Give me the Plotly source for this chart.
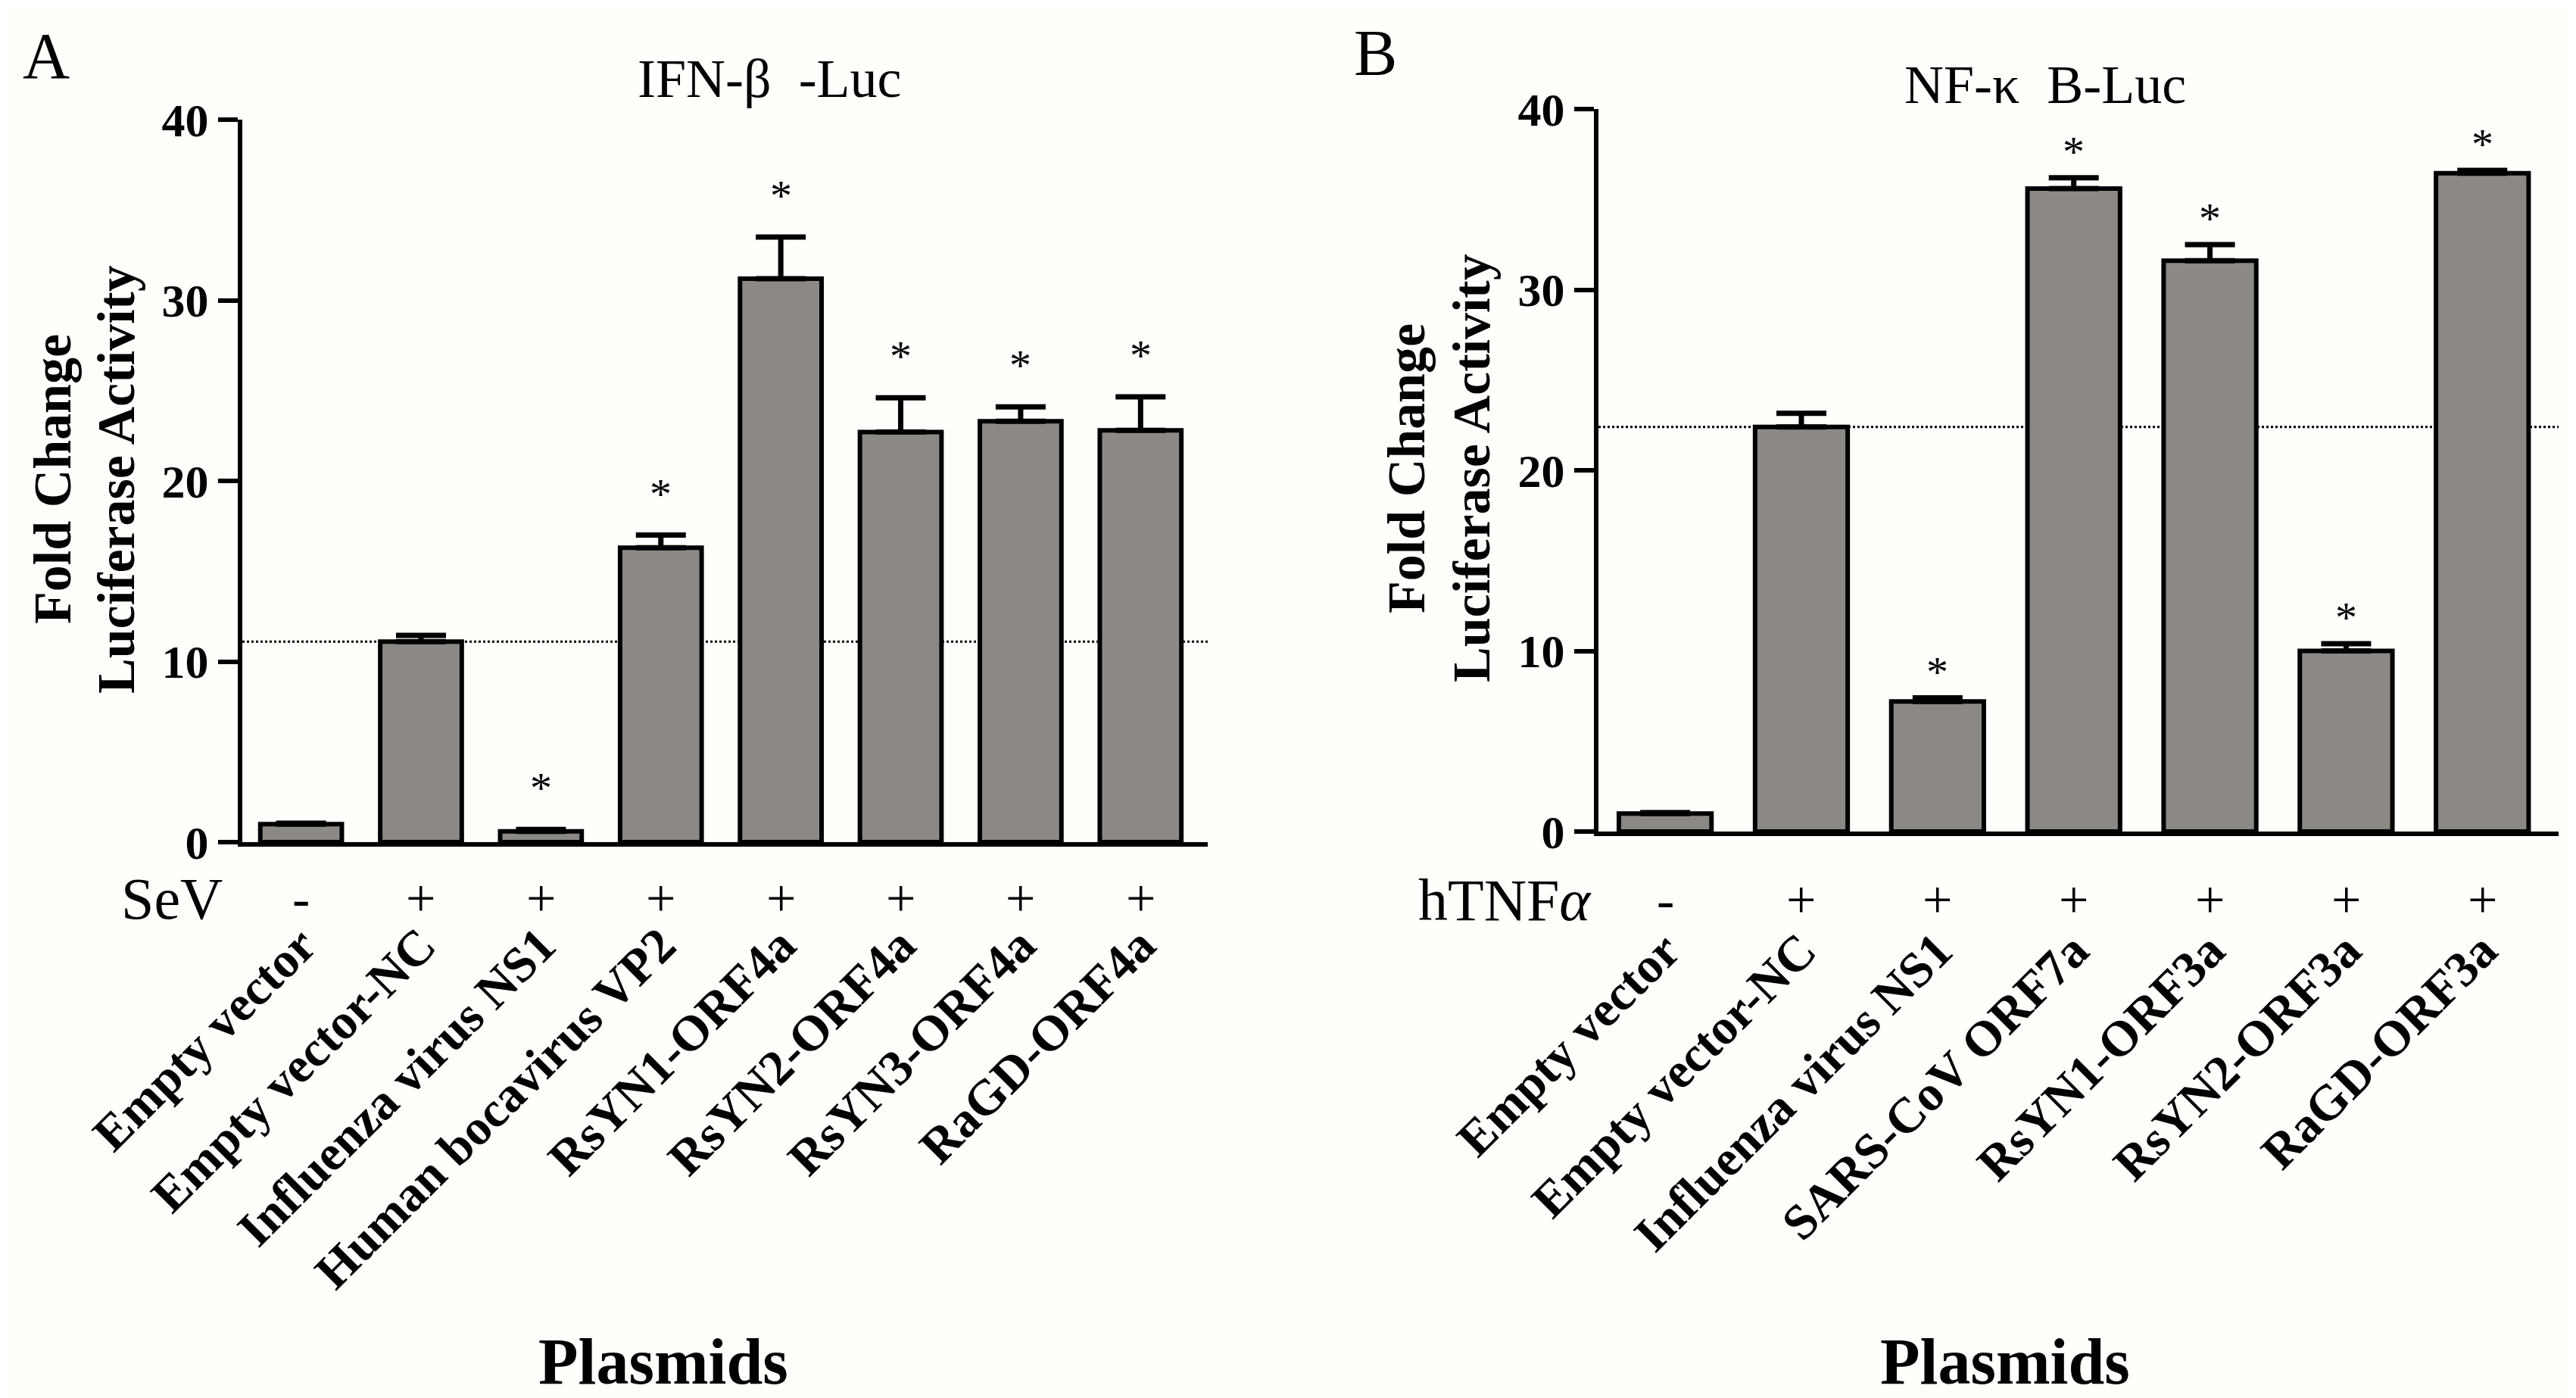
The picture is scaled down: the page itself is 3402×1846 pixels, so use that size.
import plotly.graph_objects as go

# panel A - IFN-beta luciferase
a_labels = ["Empty vector", "Empty vector-NC", "Influenza virus NS1", "Human bocavirus VP2",
            "RsYN1-ORF4a", "RsYN2-ORF4a", "RsYN3-ORF4a", "RaGD-ORF4a"]
a_values = [1.0, 11.1, 0.6, 16.3, 31.2, 22.7, 23.3, 22.8]
a_errors = [0.05, 0.35, 0.1, 0.7, 2.3, 1.9, 0.8, 1.85]
a_signs = ["-", "+", "+", "+", "+", "+", "+", "+"]
a_stars = [False, False, True, True, True, True, True, True]

# panel B - NF-kB luciferase
b_labels = ["Empty vector", "Empty vector-NC", "Influenza virus NS1", "SARS-CoV ORF7a",
            "RsYN1-ORF3a", "RsYN2-ORF3a", "RaGD-ORF3a"]
b_values = [1.0, 22.4, 7.2, 35.6, 31.6, 10.0, 36.45]
b_errors = [0.05, 0.75, 0.2, 0.6, 0.9, 0.4, 0.15]
b_signs = ["-", "+", "+", "+", "+", "+", "+"]
b_stars = [False, False, True, True, True, True, True]

yticks = [0, 10, 20, 30, 40]

W, H = 3402, 1846
FONT = "Liberation Serif"
BAR = "#8c8985"
BG = "#fefefb"


def px(x):
    return x / W


def py(y):
    return 1 - y / H


def label(x, y, text, size, bold=False, angle=0, xanchor="center"):
    # paper-positioned text, anchors set explicitly
    return dict(x=px(x), y=py(y), xref="paper", yref="paper", text=text, showarrow=False,
                xanchor=xanchor, yanchor="middle", textangle=angle,
                font=dict(family=FONT, size=size, color="black",
                          weight="bold" if bold else "normal"))


fig = go.Figure()

for labels, vals, errs, xa, ya in [(a_labels, a_values, a_errors, "x", "y"),
                                   (b_labels, b_values, b_errors, "x2", "y2")]:
    fig.add_trace(go.Bar(
        x=labels, y=vals, xaxis=xa, yaxis=ya, width=0.68,
        marker=dict(color=BAR, line=dict(color="black", width=6)),
        error_y=dict(type="data", array=errs, arrayminus=[0] * len(errs), symmetric=False,
                     color="black", thickness=7, width=33),
        showlegend=False,
    ))

axis_common = dict(showgrid=False, zeroline=False, showline=True, linecolor="black", linewidth=6,
                   automargin=False)
xcommon = dict(axis_common, ticks="", tickangle=-45,
               tickfont=dict(family=FONT, size=66, color="black", weight="bold"))
ycommon = dict(axis_common, range=[0, 40], tickvals=yticks, ticks="outside", ticklen=26,
               tickwidth=6, tickcolor="black",
               tickfont=dict(family=FONT, size=62, color="black", weight="bold"))

fig.update_layout(
    width=W, height=H,
    autosize=False,
    margin=dict(l=0, r=0, t=0, b=0, pad=0, autoexpand=False),
    paper_bgcolor=BG, plot_bgcolor=BG,
    bargap=0.32,
    xaxis=dict(xcommon, domain=[px(312), px(1587)], range=[-0.49, 7.56], anchor="y",
               ticklabelstandoff=65),
    yaxis=dict(ycommon, domain=[py(1104), py(150)], anchor="x"),
    xaxis2=dict(xcommon, domain=[px(2103), px(3371)], range=[-0.49, 6.56], anchor="y2",
                ticklabelstandoff=86),
    yaxis2=dict(ycommon, domain=[py(1090), py(136)], anchor="x2"),
)

# dotted reference line at the empty vector-NC level
fig.add_shape(type="line", xref="x domain", yref="y", x0=0, x1=1, y0=a_values[1], y1=a_values[1],
              line=dict(color="black", width=3, dash="dot"), layer="below")
fig.add_shape(type="line", xref="x2 domain", yref="y2", x0=0, x1=1, y0=b_values[1], y1=b_values[1],
              line=dict(color="black", width=3, dash="dot"), layer="below")

ann = []
# significance stars
for labels, vals, errs, stars, xa, ya, sh in [(a_labels, a_values, a_errors, a_stars, "x", "y", 20),
                                              (b_labels, b_values, b_errors, b_stars, "x2", "y2", 0)]:
    for lab, v, e, s in zip(labels, vals, errs, stars):
        if s:
            ann.append(dict(x=lab, y=v + e, xref=xa, yref=ya, text="*", showarrow=False,
                            xanchor="center", yanchor="bottom", yshift=sh,
                            font=dict(family=FONT, size=58, color="black")))

# treatment rows
for labels, signs, xa, yrow in [(a_labels, a_signs, "x", 1178), (b_labels, b_signs, "x2", 1180)]:
    for lab, s in zip(labels, signs):
        ann.append(dict(x=lab, y=py(yrow), xref=xa, yref="paper", text=s, showarrow=False,
                        xanchor="center", yanchor="middle",
                        font=dict(family=FONT, size=70, color="black")))
ann.append(label(288, 1178, "SeV", 78, xanchor="right"))
ann.append(label(2096, 1180, "hTNF<i>α</i>", 78, xanchor="right"))

# panel letters and titles
ann.append(label(20, 66, "A", 86, xanchor="left"))
ann.append(label(1778, 62, "B", 86, xanchor="left"))
ann.append(label(1009, 96, "IFN-β  -Luc", 72))
ann.append(label(2693, 104, "NF-κ  B-Luc", 72))

# y axis titles (two lines)
for xf, xl, yc in [(62, 146, 625), (1849, 1935, 610)]:
    ann.append(label(xf, yc, "Fold Change", 70, bold=True, angle=-90))
    ann.append(label(xl, yc, "Luciferase Activity", 70, bold=True, angle=-90))

# x axis titles
for xc in [868, 2640]:
    ann.append(label(xc, 1790, "Plasmids", 86, bold=True))

fig.update_layout(annotations=ann)

fig.write_html("out.html")
